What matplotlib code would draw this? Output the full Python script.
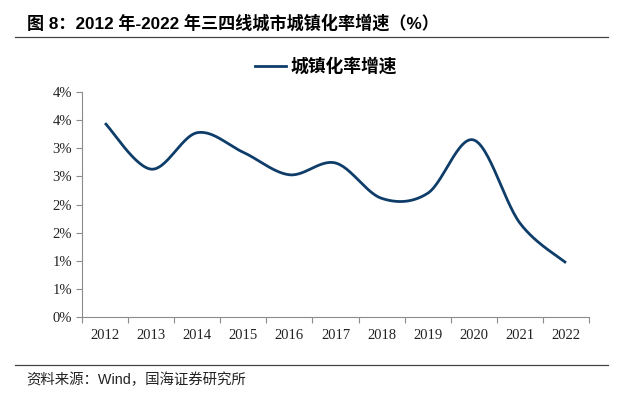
import numpy as np
import matplotlib
matplotlib.use("Agg")
import matplotlib.pyplot as plt
from matplotlib.lines import Line2D

years = ["2012", "2013", "2014", "2015", "2016", "2017", "2018", "2019", "2020", "2021", "2022"]
growth = [3.45, 2.63, 3.28, 2.93, 2.53, 2.74, 2.11, 2.20, 3.15, 1.67, 0.96]
ytick_vals = [0, 0.5, 1.0, 1.5, 2.0, 2.5, 3.0, 3.5, 4.0]
ytick_labels = ["0%", "1%", "1%", "2%", "2%", "3%", "3%", "4%", "4%"]
series_name = "城镇化率增速"
title = "图 8：2012 年-2022 年三四线城市城镇化率增速（%）"
source = "资料来源：Wind，国海证券研究所"

color = "#0E3D6A"
W, H = 620, 397
fig = plt.figure(figsize=(W / 100, H / 100), dpi=100)
ax = fig.add_axes([82 / W, 1 - 316.7 / H, (589 - 82) / W, (316.7 - 92.3) / H])


def smooth(xs, ys, n=30):
    # Catmull-Rom style cubic Bezier smoothing (like Excel smoothed lines)
    xs = np.asarray(xs, float)
    ys = np.asarray(ys, float)
    px = np.concatenate([[xs[0]], xs, [xs[-1]]])
    py = np.concatenate([[ys[0]], ys, [ys[-1]]])
    outx, outy = [], []
    t = np.linspace(0, 1, n)
    for i in range(1, len(px) - 2):
        p0 = np.array([px[i], py[i]])
        p3 = np.array([px[i + 1], py[i + 1]])
        c1 = p0 + (np.array([px[i + 1], py[i + 1]]) - np.array([px[i - 1], py[i - 1]])) / 6
        c2 = p3 - (np.array([px[i + 2], py[i + 2]]) - np.array([px[i], py[i]])) / 6
        b = ((1 - t) ** 3)[:, None] * p0 + (3 * (1 - t) ** 2 * t)[:, None] * c1 \
            + (3 * (1 - t) * t ** 2)[:, None] * c2 + (t ** 3)[:, None] * p3
        outx.extend(b[:, 0])
        outy.extend(b[:, 1])
    return np.array(outx), np.array(outy)


x = np.arange(len(years))
sx, sy = smooth(x, growth)
ax.plot(sx, sy, color=color, lw=2.0, solid_capstyle="butt")

ax.set_xlim(-0.5, len(years) - 0.5)
ax.set_ylim(0, 4)
ax.set_yticks(ytick_vals)
ax.set_yticklabels(ytick_labels)
ax.set_xticks(x)
ax.set_xticklabels(years)
ax.set_xticks(np.arange(-0.5, len(years), 1.0), minor=True)
ax.tick_params(axis="x", which="major", length=0, pad=9)
ax.tick_params(axis="x", which="minor", length=4, color="#8c8c8c", width=0.8, direction="out")
ax.tick_params(axis="y", length=4, color="#8c8c8c", width=0.8, direction="out", pad=3)
for lab in ax.get_xticklabels() + ax.get_yticklabels():
    lab.set_family(["Liberation Serif"])
    lab.set_fontsize(10.5)
    lab.set_color("#222222")
for s in ["top", "right"]:
    ax.spines[s].set_visible(False)
for s in ["left", "bottom"]:
    ax.spines[s].set_color("#8c8c8c")
    ax.spines[s].set_linewidth(0.8)

cjk = ["Liberation Sans", "Noto Sans CJK SC"]
fig.text(27 / W, 1 - 23 / H, title, fontsize=12.3, fontweight="bold", family=cjk, va="center", ha="left")
fig.add_artist(Line2D([15 / W, 608 / W], [1 - 37.3 / H, 1 - 37.3 / H], color="#444444", lw=0.9))
fig.add_artist(Line2D([15 / W, 608 / W], [1 - 365.3 / H, 1 - 365.3 / H], color="#444444", lw=0.9))
fig.text(26 / W, 1 - 380 / H, source, fontsize=10.4, family=cjk, va="center", ha="left", color="#222222")

leg = ax.legend([Line2D([0], [0], color=color, lw=2.0)], [series_name], loc="center",
                bbox_to_anchor=(326 / W, 1 - 67 / H), bbox_transform=fig.transFigure,
                frameon=False, handlelength=1.74, handletextpad=0.22,
                prop={"family": cjk, "size": 12.8, "weight": "bold"})

fig.savefig("out.png", dpi=100, facecolor="white")
